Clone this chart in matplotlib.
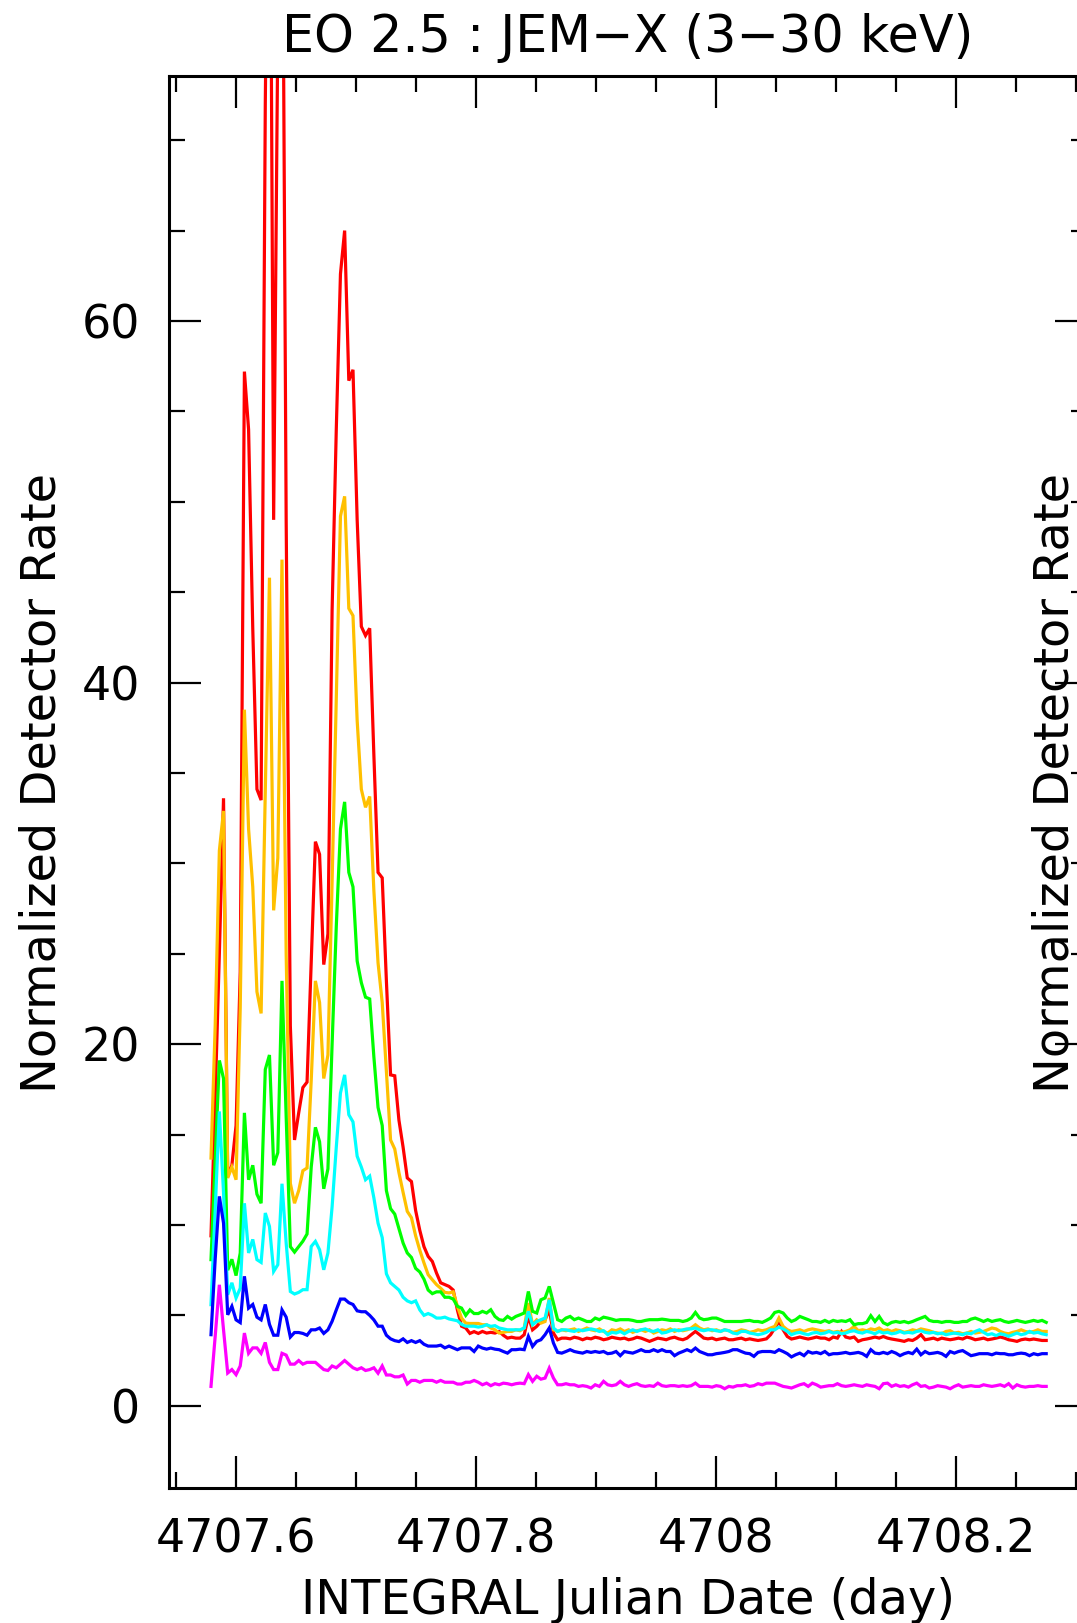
import numpy as np
import matplotlib
matplotlib.use("Agg")
import matplotlib.pyplot as plt
from matplotlib.ticker import MultipleLocator

# light curve, one point every ~5 min
start_day = 4707.579
step_day = 0.00348

red_rate = [
    9.4, 17, 25, 33.6, 12.7, 13.3, 15.5, 24, 57.2, 54.0,
    43, 34.1, 33.5, 72, 95, 49, 76, 90, 49, 21,
    14.7, 16.2, 17.6, 17.9, 24.5, 31.2, 30.5, 24.4, 26.1, 44,
    54, 62.6, 65.0, 56.7, 57.3, 49, 43.1, 42.6, 43.0, 36,
    29.5, 29.2, 23.5, 18.3, 18.25, 15.8, 14.3, 12.6, 12.4, 10.8,
    9.7, 8.8, 8.26, 7.98, 7.34, 6.8, 6.7, 6.6, 6.4, 5.3,
    4.4, 4.3, 4.0, 4.1, 4.0,
    4.11, 4.02, 4.06, 4.02, 4.11, 3.9, 3.74, 3.79, 3.74, 3.74,
    3.93, 4.94, 4.2, 4.39, 4.66, 4.76, 5.31, 4.02, 3.65, 3.74,
    3.74, 3.7, 3.79, 3.74, 3.65, 3.74, 3.7, 3.79, 3.74, 3.65,
    3.7, 3.79, 3.74, 3.7, 3.74, 3.65, 3.7, 3.79, 3.74, 3.65,
    3.56, 3.65, 3.74, 3.7, 3.65, 3.74, 3.79, 3.7, 3.65, 3.74,
    3.93, 4.11, 3.93, 3.74, 3.7, 3.74, 3.65, 3.7, 3.74, 3.65,
    3.65, 3.7, 3.74, 3.65, 3.7, 3.65, 3.61, 3.65, 3.7, 3.93,
    4.3, 4.66, 4.2, 3.83, 3.69, 3.74, 3.8, 3.74, 3.69, 3.74,
    3.8, 3.74, 3.74, 3.65, 3.8, 3.74, 4.11, 3.8, 3.74, 3.8,
    3.56, 3.65, 3.69, 3.74, 3.8, 3.74, 3.83, 3.74, 3.69, 3.65,
    3.61, 3.56, 3.65, 3.61, 3.74, 3.93, 3.65, 3.69, 3.74, 3.65,
    3.74, 3.69, 3.65, 3.69, 3.74, 3.69, 3.8, 3.74, 3.65, 3.69,
    3.74, 3.65, 3.69, 3.74, 3.8, 3.74, 3.65, 3.61, 3.56, 3.65,
    3.69, 3.65, 3.69, 3.65, 3.61, 3.61]

orange_rate = [
    13.7, 21, 30.7, 32.9, 12.6, 13.2, 12.5, 22, 38.5, 31.9,
    28.7, 22.9, 21.7, 34, 45.8, 27.4, 30.3, 46.8, 25, 12.3,
    11.2, 11.9, 13.0, 13.15, 18, 23.5, 22.3, 18.1, 19.4, 29,
    39, 49.2, 50.3, 44.1, 43.7, 37.9, 34.1, 33.1, 33.7, 28.5,
    24.5, 22.3, 18.5, 14.7, 14.2, 12.9, 11.8, 10.75, 10.4, 9.4,
    8.6, 7.9, 7.25, 6.97, 6.7, 6.5, 6.27, 6.24, 6.3, 5.5,
    4.85, 4.57, 4.55, 4.55, 4.55,
    4.48, 4.48, 4.3, 4.2, 4.02, 4.06, 4.11, 4.11, 4.2, 4.15,
    4.3, 5.68, 4.48, 4.75, 4.57, 4.66, 5.96, 4.2, 4.11, 4.2,
    4.15, 4.2, 4.25, 4.11, 4.2, 4.3, 4.2, 4.15, 4.25, 4.11,
    4.02, 4.2, 4.15, 4.25, 4.11, 4.2, 4.06, 4.15, 4.2, 4.11,
    4.2, 4.02, 4.11, 4.2, 4.15, 4.25, 4.11, 4.2, 4.15, 4.2,
    4.3, 4.48, 4.3, 4.2, 4.25, 4.15, 4.2, 4.11, 4.2, 4.15,
    4.06, 4.11, 4.2, 4.15, 4.06, 4.11, 4.2, 4.15, 4.2, 4.3,
    4.39, 4.85, 4.39, 4.2, 4.11, 4.15, 4.2, 4.11, 4.2, 4.25,
    4.2, 4.15, 4.11, 4.15, 4.06, 4.11, 4.06, 4.11, 4.2, 4.39,
    4.15, 4.2, 4.15, 4.25, 4.2, 4.3, 4.15, 4.2, 4.11, 4.2,
    4.15, 4.06, 4.11, 4.2, 4.15, 4.25, 4.2, 4.15, 4.06, 4.02,
    3.98, 4.11, 4.15, 4.02, 4.06, 3.98, 4.02, 4.11, 4.02, 4.06,
    4.11, 4.2, 4.3, 4.25, 4.11, 4.02, 3.98, 4.06, 4.11, 4.2,
    4.11, 4.06, 4.11, 4.2, 4.11, 4.11]

green_rate = [
    8.08, 13.6, 19.1, 18.1, 7.5, 8.1, 7.2, 8.45, 16.2, 12.5,
    13.3, 11.7, 11.2, 18.6, 19.4, 13.3, 14.0, 23.5, 16, 8.8,
    8.5, 8.8, 9.1, 9.5, 13.2, 15.4, 14.6, 12.0, 13.1, 20.0,
    26.5, 31.9, 33.4, 29.5, 28.7, 24.6, 23.4, 22.6, 22.5, 19.3,
    16.5, 15.5, 11.9, 10.9, 10.6, 9.8, 9.0, 8.45, 8.2, 7.6,
    7.4, 7.0, 6.4, 6.2, 6.3, 6.3, 6.0, 6.0, 5.9, 5.5,
    5.4, 5.0, 5.3, 5.1, 5.1,
    5.22, 5.13, 5.31, 4.94, 4.76, 4.72, 4.94, 4.79, 4.94, 5.03,
    5.13, 6.32, 5.22, 5.13, 5.86, 5.96, 6.6, 5.68, 4.76, 4.66,
    4.85, 4.94, 4.76, 4.85, 4.76, 4.66, 4.66, 4.85, 4.76, 4.9,
    4.85, 4.79, 4.72, 4.76, 4.76, 4.76, 4.72, 4.66, 4.66, 4.72,
    4.76, 4.76, 4.76, 4.79, 4.76, 4.72, 4.72, 4.72, 4.66, 4.72,
    4.85, 5.16, 4.85, 4.76, 4.79, 4.85, 4.85, 4.76, 4.66, 4.66,
    4.66, 4.66, 4.66, 4.7, 4.72, 4.66, 4.66, 4.61, 4.72, 4.85,
    5.16, 5.22, 5.13, 4.85, 4.66, 4.76, 4.94, 4.85, 4.76, 4.66,
    4.66, 4.61, 4.72, 4.61, 4.72, 4.66, 4.70, 4.66, 4.76, 4.48,
    4.54, 4.54, 4.61, 4.98, 4.66, 4.94, 4.59, 4.48, 4.61, 4.66,
    4.61, 4.66, 4.59, 4.66, 4.76, 4.85, 4.94, 4.72, 4.66, 4.66,
    4.61, 4.66, 4.66, 4.61, 4.61, 4.66, 4.66, 4.79, 4.85, 4.76,
    4.66, 4.76, 4.66, 4.72, 4.76, 4.66, 4.61, 4.66, 4.72, 4.66,
    4.61, 4.66, 4.72, 4.66, 4.72, 4.61]

cyan_rate = [
    5.59, 10.8, 16.28, 11.8, 6.14, 6.8, 5.96, 6.5, 11.2, 8.45,
    9.2, 8.08, 7.93, 10.66, 9.92, 7.43, 7.8, 12.28, 9.0, 6.32,
    6.18, 6.27, 6.42, 6.42, 8.81, 9.09, 8.63, 7.52, 8.45, 11.0,
    14.3, 17.3, 18.3, 16.1, 15.7, 13.8, 13.2, 12.5, 12.7, 11.5,
    10.1, 9.3, 7.3, 6.8, 6.6, 6.4, 6.0, 5.8, 5.7, 5.8,
    5.3, 5.0, 5.1, 5.0, 4.85, 4.85, 4.9, 4.8, 4.75, 4.7,
    4.5, 4.4, 4.4, 4.4, 4.35,
    4.39, 4.48, 4.39, 4.43, 4.3, 4.25, 4.2, 4.2, 4.2, 4.2,
    4.3, 5.22, 4.48, 4.66, 4.76, 4.85, 5.86, 4.3, 4.11, 4.2,
    4.2, 4.15, 4.11, 4.2, 4.15, 4.2, 4.25, 4.2, 4.11, 4.15,
    3.93, 4.06, 4.02, 4.11, 3.98, 4.11, 4.2, 4.11, 4.2, 4.25,
    4.15, 4.11, 4.2, 4.02, 4.06, 4.15, 4.2, 4.15, 4.2, 4.25,
    4.25, 4.3, 4.2, 4.15, 4.2, 4.2, 4.15, 4.11, 4.2, 4.15,
    4.02, 3.98, 4.11, 4.11, 4.02, 3.98, 3.93, 3.98, 4.06, 4.2,
    4.2, 4.35, 4.25, 4.11, 3.93, 4.02, 4.06, 3.98, 3.93, 4.02,
    4.06, 3.98, 4.02, 4.11, 4.02, 4.06, 3.98, 4.02, 4.11, 4.15,
    4.06, 4.02, 4.11, 4.06, 3.98, 4.11, 4.02, 4.06, 3.98, 4.02,
    4.11, 4.02, 4.06, 4.02, 4.11, 4.15, 4.06, 4.02, 4.06, 3.98,
    4.02, 3.93, 3.98, 4.02, 3.98, 3.93, 4.02, 3.98, 4.11, 4.2,
    4.06, 3.93, 3.98, 3.88, 3.98, 3.93, 3.84, 3.93, 4.02, 3.93,
    3.98, 4.11, 4.02, 4.06, 3.98, 3.93]

blue_rate = [
    3.93, 8.1, 11.58, 10.1, 5.03, 5.5, 4.75, 4.6, 7.16, 5.4,
    5.6, 4.9, 4.75, 5.6, 4.5, 3.9, 3.9, 5.3, 4.9, 3.8,
    4.05, 4.05, 4.0, 3.9, 4.2, 4.2, 4.3, 4.0, 4.2, 4.67,
    5.3, 5.9, 5.9, 5.7, 5.6, 5.25, 5.2, 5.2, 5.0, 4.75,
    4.4, 4.4, 3.9, 3.7, 3.6, 3.55, 3.7, 3.5, 3.6, 3.5,
    3.6, 3.4, 3.3, 3.3, 3.3, 3.35, 3.2, 3.3, 3.2, 3.1,
    3.2, 3.2, 3.2, 3.0, 3.3,
    3.19, 3.13, 3.19, 3.13, 3.1, 3.0, 2.91, 3.1, 3.1, 3.13,
    3.1, 3.83, 3.28, 3.56, 3.65, 3.93, 4.3, 3.47, 2.95, 2.91,
    3.0, 3.1, 3.0, 2.95, 2.91, 3.0, 2.95, 3.0, 2.95, 3.0,
    2.88, 2.91, 3.0, 2.77, 3.0, 2.95, 2.91, 3.0, 3.1, 3.0,
    3.0, 3.1, 3.0, 3.1, 3.0, 3.0, 2.77, 2.91, 3.0, 3.1,
    3.0, 3.19, 3.0, 2.91, 2.82, 2.82, 2.88, 2.91, 2.95, 3.0,
    3.1, 3.1, 3.0, 2.91, 2.88, 2.73, 2.95, 3.0, 3.0, 3.0,
    2.95, 3.1, 3.0, 2.88, 2.7, 2.82, 2.91, 2.77, 3.0, 2.91,
    2.95, 2.88, 3.0, 2.82, 2.88, 2.88, 2.91, 2.95, 2.88, 2.91,
    2.95, 2.88, 2.73, 3.1, 2.91, 2.88, 2.95, 2.88, 3.0, 2.91,
    2.77, 2.88, 2.95, 2.88, 3.13, 2.82, 3.0, 2.88, 2.91, 2.95,
    2.88, 2.73, 3.0, 2.91, 3.0, 3.05, 2.91, 2.77, 2.82, 2.88,
    2.88, 2.88, 2.82, 2.91, 2.88, 2.88, 2.82, 2.82, 2.88, 2.91,
    2.88, 2.77, 2.88, 2.82, 2.88, 2.88]

magenta_rate = [
    1.07, 3.83, 6.69, 4.2, 1.81, 2.0, 1.72, 2.2, 4.02, 2.9,
    3.2, 3.2, 2.9, 3.5, 2.4, 2.0, 2.0, 2.9, 2.8, 2.3,
    2.3, 2.5, 2.3, 2.4, 2.4, 2.4, 2.2, 2.0, 1.95, 2.2,
    2.1, 2.3, 2.5, 2.3, 2.1, 2.0, 2.1, 1.95, 2.0, 2.1,
    1.8, 2.2, 1.7, 1.7, 1.6, 1.6, 1.7, 1.2, 1.4, 1.4,
    1.3, 1.4, 1.4, 1.4, 1.3, 1.4, 1.3, 1.3, 1.3, 1.2,
    1.2, 1.3, 1.3, 1.4, 1.3,
    1.16, 1.25, 1.11, 1.22, 1.16, 1.25, 1.22, 1.16, 1.22, 1.25,
    1.22, 1.72, 1.35, 1.63, 1.47, 1.53, 2.08, 1.53, 1.16, 1.16,
    1.22, 1.16, 1.16, 1.07, 1.11, 1.07, 0.98, 1.16, 1.07, 1.35,
    1.16, 1.11, 1.16, 1.35, 1.16, 1.07, 1.16, 1.22, 1.11, 1.07,
    1.11, 1.07, 1.25, 1.11, 1.07, 1.11, 1.11, 1.07, 1.11, 1.07,
    1.11, 1.25, 1.07, 1.07, 1.07, 1.03, 1.11, 1.07, 0.94, 1.07,
    1.03, 1.11, 1.11, 1.16, 1.07, 1.11, 1.22, 1.16, 1.25, 1.25,
    1.25, 1.16, 1.07, 1.03, 0.98, 1.07, 1.16, 1.22, 1.07, 1.25,
    1.16, 1.03, 1.07, 1.11, 1.11, 1.22, 1.11, 1.07, 1.11, 1.16,
    1.11, 1.07, 1.16, 1.11, 1.07, 0.94, 1.22, 1.25, 1.07, 1.16,
    1.07, 1.11, 1.03, 1.16, 1.25, 1.07, 1.11, 0.98, 1.03, 1.11,
    1.07, 1.03, 0.94, 1.07, 1.16, 1.03, 1.07, 1.11, 1.07, 1.07,
    1.16, 1.11, 1.07, 1.11, 1.16, 1.07, 1.22, 0.98, 1.16, 1.07,
    1.03, 1.07, 1.07, 1.11, 1.07, 1.07]

series = [(red_rate, '#ff0000'), (orange_rate, '#ffc000'), (green_rate, '#00ff00'),
          (cyan_rate, '#00ffff'), (blue_rate, '#0000ff'), (magenta_rate, '#ff00ff')]

title_text = "EO 2.5 : JEM\u2212X (3\u221230 keV)"
x_label = "INTEGRAL Julian Date (day)"
y_label = "Normalized Detector Rate"

plt.rcParams['font.family'] = ['DejaVu Sans']
FS = 33

W, H = 1077, 1623
fig = plt.figure(figsize=(W / 100, H / 100), dpi=100)
# frame runs a little past the right edge of the picture, like the original
ax = fig.add_axes([169 / W, 1 - 1488 / H, (1087 - 169) / W, (1488 - 76) / H])

for vals, col in series:
    t = start_day + step_day * np.arange(len(vals))
    ax.plot(t, vals, color=col, lw=2.3, solid_joinstyle='miter')

ax.set_xlim(4707.544, 4708.309)
ax.set_ylim(-4.55, 73.55)

ax.xaxis.set_major_locator(MultipleLocator(0.2))
ax.xaxis.set_minor_locator(MultipleLocator(0.05))
ax.yaxis.set_major_locator(MultipleLocator(20))
ax.yaxis.set_minor_locator(MultipleLocator(5))
ax.set_xticks([4707.6, 4707.8, 4708.0, 4708.2])
ax.set_xticklabels(["4707.6", "4707.8", "4708", "4708.2"])

ax.tick_params(which='both', direction='in', top=True, right=True,
               width=1.6, colors='black', labelsize=FS, pad=21)
ax.tick_params(which='major', length=23)
ax.tick_params(which='minor', length=11.5)
for sp in ax.spines.values():
    sp.set_linewidth(2.2)

mid_x = (169 + 1087) / 2 / W
fig.text(mid_x, 1 - 52 / H, title_text, ha='center', va='baseline', fontsize=36.5)
fig.text(mid_x, 1 - 1614 / H, x_label, ha='center', va='baseline', fontsize=34.5)
fig.text(42 / W, 1 - 783 / H, y_label, rotation=90, ha='center', va='center', fontsize=34.5)
fig.text(1055 / W, 1 - 783 / H, y_label, rotation=90, ha='center', va='center', fontsize=34.5)

plt.savefig("out.png", dpi=100)
plt.close()
